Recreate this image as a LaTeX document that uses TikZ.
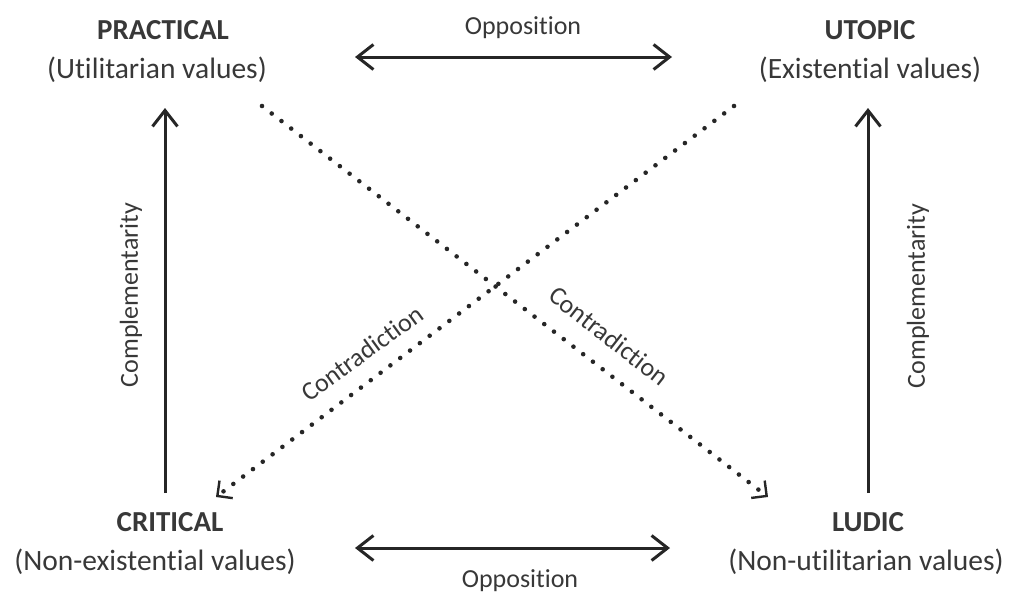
\documentclass[tikz,border=0pt]{standalone}
\usepackage{fontspec}
\setmainfont{Carlito}[Ligatures=NoCommon]
\usetikzlibrary{arrows.meta}
\definecolor{ink}{HTML}{262626}
\definecolor{txt}{HTML}{383838}
\begin{document}
\begin{tikzpicture}[x=1pt,y=-1pt,
  title/.style={font=\fontsize{29}{32}\selectfont\bfseries, text=txt, inner sep=0pt},
  sub/.style={font=\fontsize{29.5}{32}\selectfont, text=txt, inner sep=0pt},
  lbl/.style={font=\fontsize{26}{28}\selectfont, text=txt, inner sep=0pt},
  barb/.tip={Straight Barb[length=16pt,width=25pt,line width=3pt]},
  relation/.style={draw=ink, line width=3pt, -barb},
  mutual/.style={draw=ink, line width=3pt, barb-barb},
  negation/.style={draw=ink, line width=4.6pt, line cap=round,
    dash pattern=on 0pt off 12.3pt,
    -{Straight Barb[length=11pt,width=22pt,line width=2.4pt]}}
]
\useasboundingbox (0,0) rectangle (1014,598);

% the four value positions
\node[title] (prac) at (163,30) {PRACTICAL};
\node[sub]   (pracsub) at (157,70) {(Utilitarian values)};
\node[title] (utop) at (870,30) {UTOPIC};
\node[sub]   (utopsub) at (870,70) {(Existential values)};
\node[title] (crit) at (170,522) {CRITICAL};
\node[sub]   (critsub) at (155,562) {(Non-existential values)};
\node[title] (ludic) at (868,522) {LUDIC};
\node[sub]   (ludicsub) at (866,562) {(Non-utilitarian values)};

% connector end points
\coordinate (oppTL) at (355,57);
\coordinate (oppTR) at (672,57);
\coordinate (oppBL) at (355,548);
\coordinate (oppBR) at (670,548);
\coordinate (compLb) at (165,493);
\coordinate (compLt) at (165,108);
\coordinate (compRb) at (868,493);
\coordinate (compRt) at (868,108);
\coordinate (conAs) at (262,106);
\coordinate (conAe) at (768,497);
\coordinate (conBs) at (734,106);
\coordinate (conBe) at (216,497);

% oppositions
\draw[mutual] (oppTL) -- (oppTR);
\draw[mutual] (oppBL) -- (oppBR);
\node[lbl] (oppT) at (523,28) {Opposition};
\node[lbl] (oppB) at (520,581) {Opposition};

% complementarities
\draw[relation] (compLb) -- (compLt);
\draw[relation] (compRb) -- (compRt);
\node[lbl, rotate=90] (compL) at (131,295) {Complementarity};
\node[lbl, rotate=90] (compR) at (918,296) {Complementarity};

% contradictions
\draw[negation] (conAs) -- (conAe);
\draw[negation] (conBs) -- (conBe);
\node[lbl, rotate=36] (conL) at (362,353) {Contradiction};
\node[lbl, rotate=-38] (conR) at (609,336) {Contradiction};
\end{tikzpicture}
\end{document}
